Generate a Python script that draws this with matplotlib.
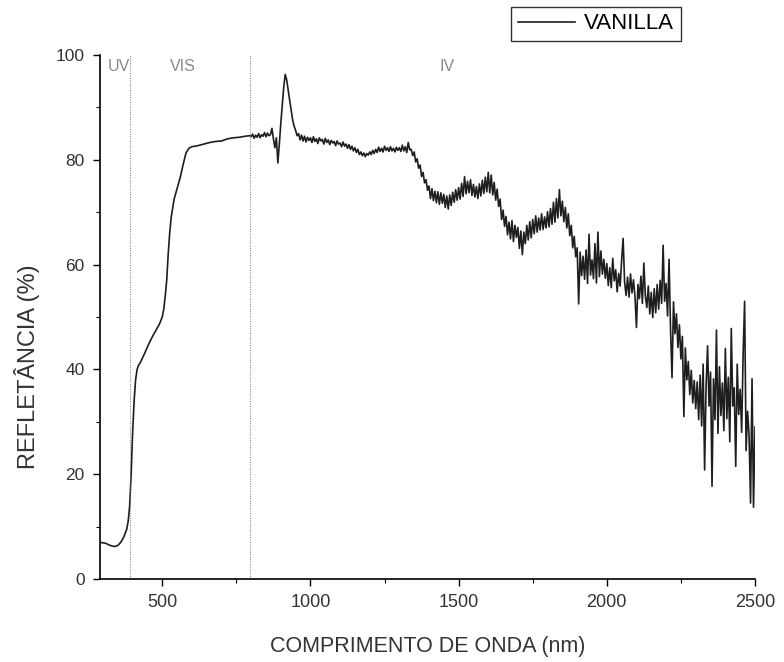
import matplotlib
matplotlib.use("Agg")
import matplotlib.pyplot as plt
import numpy as np
from matplotlib.ticker import MultipleLocator

plt.rcParams["font.family"] = ["Liberation Sans", "DejaVu Sans"]

# parte suave (UV / VIS), pares
ONDA_SUAVE = [290, 300, 310, 320, 330, 340, 350, 360, 370, 380, 385, 390, 395,
              400, 405, 410, 415, 420, 425, 430, 440, 450, 460, 470, 480, 490,
              500, 505, 510, 515, 520, 525, 530, 540, 550, 560, 570, 580, 590,
              600, 620, 640, 660, 680, 700, 720, 740, 760, 780, 795]
REFL_SUAVE = [7.0, 6.9, 6.8, 6.5, 6.3, 6.2, 6.4, 7.0, 8.0, 9.5, 11.0, 14.0, 20.0,
              28.0, 34.0, 38.0, 40.0, 40.8, 41.2, 41.8, 43.0, 44.3, 45.5, 46.6, 47.6, 48.6,
              50.0, 51.5, 54.0, 57.0, 62.0, 66.0, 69.0, 72.5, 74.5, 76.5, 79.0, 81.3, 82.2,
              82.5, 82.7, 83.0, 83.3, 83.5, 83.6, 84.0, 84.2, 84.3, 84.5, 84.6]

# parte ruidosa (IV), un valor cada 5 nm desde 800 hasta 2500
ONDA_INICIO = 800
ONDA_PASO = 5
REFL_IV = [
    84.4, 84.9, 84.1, 84.7, 84.3, 85.0, 84.2, 84.8, 84.5, 85.2, 84.4, 85.1, 84.6, 84.8, 86.0, 84.0, 82.3, 84.2, 79.4, 83.0,
    87.0, 90.5, 94.0, 96.3, 95.2, 93.2, 91.3, 89.4, 87.6, 86.4, 85.6, 84.6, 85.0, 83.8, 84.7, 83.6, 84.5, 83.4, 84.3, 83.7,
    84.2, 83.3, 84.4, 83.5, 84.0, 83.1, 84.2, 83.6, 83.9, 83.0, 84.1, 83.3, 83.8, 82.9, 83.7, 83.2, 83.5, 82.7, 83.6, 83.0,
    83.2, 82.5, 83.4, 82.6, 83.0, 82.2, 82.9, 82.0, 82.6, 81.7, 82.3, 81.4, 82.0, 81.0, 81.5, 80.8, 81.3, 80.6, 81.2, 80.9,
    81.5, 81.0, 81.8, 81.2, 82.0, 81.4, 82.4, 81.6, 82.2, 81.5, 82.6, 81.8, 82.3, 81.6, 82.5, 81.7, 82.2, 81.5, 82.4, 81.8,
    82.3, 81.6, 82.8, 81.7, 82.5, 81.4, 83.3, 81.9, 82.0, 80.8, 81.5, 79.6, 80.2, 78.4, 79.0, 76.8, 77.6, 75.6, 76.2, 74.2,
    75.0, 72.6, 74.5, 72.2, 74.0, 71.8, 73.9, 71.5, 73.7, 71.7, 73.4, 70.9, 73.1, 70.6, 73.3, 71.3, 73.8, 71.9, 74.3, 72.3,
    74.7, 72.5, 75.5, 73.0, 76.8, 73.5, 75.9, 73.7, 76.2, 73.2, 75.3, 72.9, 74.9, 72.6, 75.4, 73.1, 76.1, 73.6, 76.7, 73.9,
    77.6, 73.7, 77.1, 73.3, 75.7, 72.3, 74.4, 71.1, 72.5, 68.6, 70.4, 67.3, 69.2, 65.7, 68.1, 64.9, 68.4, 64.4, 67.5, 65.2,
    67.1, 63.1, 66.4, 61.9, 66.2, 64.0, 67.5, 64.7, 68.2, 65.1, 68.6, 65.9, 69.3, 66.2, 68.9, 66.6, 69.7, 66.7, 69.1, 67.0,
    70.1, 67.2, 70.7, 67.7, 71.9, 68.1, 72.6, 68.9, 74.3, 69.3, 72.1, 68.2, 70.9, 67.0, 69.7, 65.5, 67.5, 63.2, 65.4, 61.5,
    63.2, 52.5, 62.4, 57.9, 61.6, 57.2, 62.8, 56.4, 65.8, 58.0, 60.9, 57.3, 64.0, 56.5, 66.2, 57.7, 62.6, 58.2, 61.0, 57.4,
    60.2, 56.0, 59.4, 55.6, 61.2, 56.9, 59.0, 54.8, 58.3, 55.9, 60.8, 65.0, 56.7, 54.1, 57.6, 53.8, 58.2, 54.6, 57.1, 53.9,
    48.0, 56.2, 53.5, 57.8, 52.6, 60.3, 54.0, 51.8, 55.9, 50.6, 54.7, 49.9, 55.4, 50.8, 56.2, 51.5, 57.0, 52.6, 63.7, 53.0,
    56.4, 50.2, 61.0, 47.8, 38.4, 52.9, 46.8, 50.6, 44.2, 48.5, 42.0, 46.3, 31.0, 44.1, 38.0, 41.5, 35.2, 39.8, 33.6, 37.9,
    32.5, 37.6, 30.4, 38.9, 29.2, 41.0, 20.8, 36.8, 44.5, 33.0, 39.5, 17.7, 38.2, 30.4, 47.5, 27.8, 40.5, 31.2, 37.4, 28.3,
    44.0, 30.6, 38.5, 26.2, 47.8, 33.0, 36.5, 21.5, 41.0, 31.4, 36.2, 28.0, 43.0, 53.0, 24.5, 32.0, 27.5, 14.5, 38.2, 13.7,
    29.0,
]

LIMITES_REGION = [390, 795]
ETIQUETAS_REGION = ["UV", "VIS", "IV"]
POS_ETIQUETAS = [315, 525, 1437]

onda_iv = ONDA_INICIO + ONDA_PASO * np.arange(len(REFL_IV))
onda = np.concatenate([ONDA_SUAVE, onda_iv])
refl = np.concatenate([REFL_SUAVE, REFL_IV])

fig = plt.figure(figsize=(7.84, 6.62), dpi=100)
ax = fig.add_axes([0.1276, 0.1254, 0.8354, 0.7915])

linea, = ax.plot(onda, refl, color="#1e1e1e", lw=1.2, label="VANILLA")

for xr in LIMITES_REGION:
    ax.axvline(xr, color="#777777", lw=0.7, ls=(0, (1, 1.5)))

for etiqueta, xe in zip(ETIQUETAS_REGION, POS_ETIQUETAS):
    ax.text(xe, 99.3, etiqueta, color="#8a8a8a", fontsize=11.5, va="top", ha="left")

ax.set_xlim(290, 2500)
ax.set_ylim(0, 100)
ax.xaxis.set_major_locator(MultipleLocator(500))
ax.xaxis.set_minor_locator(MultipleLocator(250))
ax.yaxis.set_major_locator(MultipleLocator(20))
ax.yaxis.set_minor_locator(MultipleLocator(10))
ax.tick_params(which="major", direction="out", length=5, width=1,
               labelcolor="#333333", pad=6)
ax.tick_params(axis="x", which="major", labelsize=13)
ax.tick_params(axis="y", which="major", labelsize=12.5)
ax.tick_params(which="minor", direction="out", length=3, width=0.8)

for lado in ["top", "right"]:
    ax.spines[lado].set_visible(False)
for lado in ["left", "bottom"]:
    ax.spines[lado].set_linewidth(1.2)

ax.set_xlabel("COMPRIMENTO DE ONDA (nm)", fontsize=15.5, color="#333333", va="center")
ax.set_ylabel("REFLETÂNCIA (%)", fontsize=17, color="#333333", va="center")
ax.xaxis.set_label_coords(0.5, -0.128)
ax.yaxis.set_label_coords(-0.1115, 0.405)

fig.legend(handles=[linea], loc="center", bbox_to_anchor=(0.760, 0.964),
           frameon=True, fancybox=False, edgecolor="black", fontsize=16,
           handlelength=2.6, borderpad=0.3, handletextpad=0.4, borderaxespad=0)

fig.savefig("out.png", dpi=100, facecolor="white")
